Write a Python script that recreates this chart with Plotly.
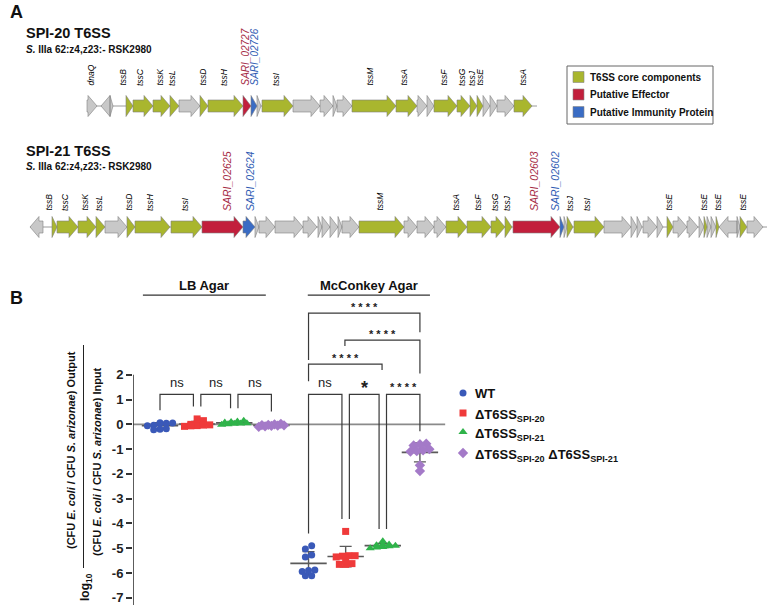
import numpy as np
import plotly.graph_objects as go

# ---------------- Panel A : gene maps (map units) ----------------
SPI20_START = [87, 101, 110, 126, 133, 153, 170, 179, 200, 208, 243, 251, 257, 262, 293, 320, 333, 337, 352, 396,
               417, 427, 434, 457, 470, 477, 483, 490, 497, 514]
SPI20_END = [97, 110, 113, 133, 153, 170, 179, 200, 208, 243, 251, 257, 261, 293, 320, 333, 337, 352, 396, 417,
             427, 434, 457, 470, 477, 483, 490, 497, 514, 532]
SPI20_STRAND = [1, -1, 1] + [1] * 27
SPI20_TYPE = ['g', 'g', 'g', 'c', 'c', 'c', 'c', 'g', 'c', 'c', 'e', 'i', 'g', 'c', 'g', 'g', 'g', 'g', 'c', 'c',
              'g', 'g', 'c', 'c', 'c', 'c', 'g', 'g', 'g', 'c']
SPI20_LABEL_POS = [90, 122, 140, 159, 172, 202, 224, 245, 254, 276, 369, 403, 443, 462, 472, 479, 522]
SPI20_LABELS = ['dnaQ', 'tssB', 'tssC', 'tssK', 'tssL', 'tssD', 'tssH', 'SARI_02727', 'SARI_02726', 'tssI',
                'tssM', 'tssA', 'tssF', 'tssG', 'tssJ', 'tssE', 'tssA']

SPI21_START = [30, 52, 57, 78, 96, 105, 127, 135, 171, 202, 243, 255, 259, 275, 303, 318, 322, 330, 338, 342,
               359, 404, 417, 434, 446, 467, 491, 505, 513, 560, 564, 567, 574, 604, 631, 637, 643, 657, 667, 673,
               687, 699, 704, 707, 711, 716, 719, 737, 740, 747]
SPI21_END = [43, 57, 78, 96, 105, 127, 135, 170, 202, 243, 255, 259, 275, 303, 317, 322, 330, 338, 342, 359,
             404, 417, 434, 446, 467, 491, 505, 512, 560, 564, 567, 573, 604, 631, 637, 642, 657, 663, 673, 687,
             698, 704, 707, 711, 716, 719, 737, 740, 747, 763]
SPI21_STRAND = [-1] + [1] * 45 + [-1] + [1] * 3
SPI21_TYPE = ['g', 'c', 'c', 'c', 'c', 'g', 'c', 'c', 'c', 'e', 'i', 'g', 'g', 'g', 'g', 'g', 'g', 'g', 'g', 'g',
              'c', 'g', 'g', 'g', 'c', 'c', 'c', 'c', 'e', 'i', 'g', 'c', 'c', 'g', 'g', 'g', 'g', 'g', 'c', 'g',
              'g', 'g', 'c', 'g', 'g', 'c', 'g', 'g', 'c', 'g']
SPI21_LABEL_POS = [48, 65, 84, 99, 128, 150, 185, 227, 250, 379, 455, 477, 495, 507, 534, 555, 570, 587,
                   668, 703, 717, 742]
SPI21_LABELS = ['tssB', 'tssC', 'tssK', 'tssL', 'tssD', 'tssH', 'tssI', 'SARI_02625', 'SARI_02624', 'tssM',
                'tssA', 'tssF', 'tssG', 'tssJ', 'SARI_02603', 'SARI_02602', 'tssJ', 'tssI',
                'tssE', 'tssE', 'tssE', 'tssE']

GENE_CLASSES = ['c', 'e', 'i']
GENE_CLASS_NAMES = ['T6SS core components', 'Putative Effector', 'Putative Immunity Protein']

# ---------------- Panel B : competition data (log10 ratios) ----------------
STRAINS = ['WT', 'ΔT6SS<sub>SPI-20</sub>', 'ΔT6SS<sub>SPI-21</sub>',
           'ΔT6SS<sub>SPI-20</sub> ΔT6SS<sub>SPI-21</sub>']
MEDIA = ['LB Agar', 'McConkey Agar']
LB_WT = [0.07, 0.05, 0.04, 0.06, -0.04, -0.06, -0.18, -0.20, -0.22]
LB_SPI20 = [0.22, 0.15, 0.02, 0.00, -0.02, -0.05, -0.03, -0.08, -0.06]
LB_SPI21 = [0.12, 0.10, 0.08, 0.05, 0.02, 0.00, -0.02, 0.15, 0.03]
LB_DOUBLE = [0.00, -0.02, -0.03, -0.05, -0.06, -0.08, -0.10, 0.02, -0.04]
MC_WT = [-4.90, -5.03, -5.27, -5.35, -5.88, -5.94, -6.11, -6.11, -5.90]
MC_SPI20 = [-4.32, -5.30, -5.32, -5.35, -5.30, -5.62, -5.65, -5.65, -5.50]
MC_SPI21 = [-4.72, -4.85, -4.88, -4.90, -4.95, -4.97, -5.00, -4.92, -4.85]
MC_DOUBLE = [-0.78, -0.80, -0.85, -1.00, -1.05, -1.10, -1.08, -1.65, -1.88]
Y_TICKS = [-7, -6, -5, -4, -3, -2, -1, 0, 1, 2]
Y_TICK_LABELS = ['-7', '-6', '-5', '-4', '-3', '-2', '-1', '0', '1', '2']
ADJ_COMPARISONS = [(0, 1, 'ns'), (1, 2, 'ns'), (2, 3, 'ns'), (4, 5, 'ns'), (5, 6, '*'), (6, 7, '* * * *')]
# upper comparisons: (left, right, bracket top, left leg end, right leg end, label)
UPPER_COMPARISONS = [(4, 5.98, 2.43, 1.74, 2.19, '* * * *'),
                     (4.98, 7, 3.40, 3.16, 2.05, '* * * *'),
                     (4, 7, 4.49, 2.60, 3.72, '* * * *')]

# ---------------- styles ----------------
FONT = 'Liberation Sans, Arial, sans-serif'
GENE_COLORS = {'g': '#c8c8c8', 'c': '#a9b62e', 'e': '#c21f3c', 'i': '#3a6cc4'}
LABEL_COLORS = {'tss': '#000000', 'e': '#a52a44', 'i': '#2f5bb3'}
STRAIN_COLORS = ['#3a59b8', '#ef3a3a', '#2fb34a', '#a47ac8']
STRAIN_SYMBOLS = ['circle', 'square', 'triangle-up', 'diamond']
STRAIN_SIZES = [7, 7, 8, 8]

fig = go.Figure()


def arrow_path(s, e, strand, yc, hb=6.0, hh=10.5, hl=9.0):
    L = e - s
    h = min(hl, L)
    if strand > 0:
        if h >= L:
            return [s, e, s, s], [yc - hh, yc, yc + hh, yc - hh]
        return ([s, e - h, e - h, e, e - h, e - h, s, s],
                [yc - hb, yc - hb, yc - hh, yc, yc + hh, yc + hb, yc + hb, yc - hb])
    if h >= L:
        return [e, s, e, e], [yc - hh, yc, yc + hh, yc - hh]
    return ([e, s + h, s + h, s, s + h, s + h, e, e],
            [yc - hb, yc - hb, yc - hh, yc, yc + hh, yc + hb, yc + hb, yc - hb])


def draw_map(starts, ends, strands, types, yc):
    fig.add_trace(go.Scatter(x=[min(starts), max(ends) + 5], y=[yc, yc], mode='lines',
                             line=dict(color='#9a9a9a', width=1), xaxis='x2', yaxis='y2', hoverinfo='skip'))
    for t in ['g', 'c', 'e', 'i']:
        xs, ys = [], []
        for s, e, st, tt in zip(starts, ends, strands, types):
            if tt != t:
                continue
            px, py = arrow_path(s, e, st, yc)
            xs += px + [None]
            ys += py + [None]
        fig.add_trace(go.Scatter(x=xs, y=ys, mode='lines', fill='toself', fillcolor=GENE_COLORS[t],
                                 line=dict(color='#808080', width=0.6), xaxis='x2', yaxis='y2',
                                 hoverinfo='skip'))


def draw_labels(pos, labels, ybottom, small, big):
    for p, lab in zip(pos, labels):
        if lab.startswith('SARI'):
            num = int(lab.split('_')[1])
            col = LABEL_COLORS['e'] if num % 2 == 1 else LABEL_COLORS['i']
            size = big
        else:
            col = LABEL_COLORS['tss']
            size = small
        fig.add_annotation(x=p, y=ybottom, xref='x2', yref='y2', text='<i>%s</i>' % lab, textangle=-90,
                           showarrow=False, xanchor='center', yanchor='bottom',
                           font=dict(family=FONT, size=size, color=col))


draw_map(SPI20_START, SPI20_END, SPI20_STRAND, SPI20_TYPE, 106)
draw_map(SPI21_START, SPI21_END, SPI21_STRAND, SPI21_TYPE, 227)
draw_labels(SPI20_LABEL_POS, SPI20_LABELS, 88, 8.5, 10)
draw_labels(SPI21_LABEL_POS, SPI21_LABELS, 213, 8.5, 10.5)

# panel A titles
for txt, x, y, size in [('<b>A</b>', 8, 12, 18), ('<b>SPI-20 T6SS</b>', 24, 33, 14.5),
                        ('<b><i>S.</i> IIIa 62:z4,z23:- RSK2980</b>', 24, 49, 10),
                        ('<b>SPI-21 T6SS</b>', 24, 151, 14.5),
                        ('<b><i>S.</i> IIIa 62:z4,z23:- RSK2980</b>', 24, 166, 10),
                        ('<b>B</b>', 8, 298, 18)]:
    fig.add_annotation(x=x, y=y, xref='x2', yref='y2', text=txt, showarrow=False, xanchor='left',
                       yanchor='middle', font=dict(family=FONT, size=size, color='#111'))

# panel A legend
fig.add_shape(type='rect', x0=567, x1=713, y0=66, y1=124, xref='x2', yref='y2',
              line=dict(color='#666', width=1), fillcolor='white')
for k, (cls, name) in enumerate(zip(GENE_CLASSES, GENE_CLASS_NAMES)):
    yy = 77 + k * 17.5
    fig.add_shape(type='rect', x0=573, x1=584, y0=yy - 5.5, y1=yy + 5.5, xref='x2', yref='y2',
                  line=dict(color='#888', width=0.6), fillcolor=GENE_COLORS[cls])
    fig.add_annotation(x=588, y=yy, xref='x2', yref='y2', text='<b>%s</b>' % name, showarrow=False,
                       xanchor='left', yanchor='middle', font=dict(family=FONT, size=10, color='#111'))

# ---------------- Panel B ----------------
SERIES = [LB_WT, LB_SPI20, LB_SPI21, LB_DOUBLE, MC_WT, MC_SPI20, MC_SPI21, MC_DOUBLE]


def swarm(values, center, bin_w=0.15, step=0.17, max_row=5):
    """Prism-like column scatter: points of similar value share a row, spread horizontally."""
    v = np.asarray(values, dtype=float)
    order = np.argsort(v, kind='stable')
    rows, cur = [], [order[0]]
    for idx in order[1:]:
        if v[idx] - v[cur[0]] <= bin_w and len(cur) < max_row:
            cur.append(idx)
        else:
            rows.append(cur)
            cur = [idx]
    rows.append(cur)
    off = np.zeros(len(v))
    for r in rows:
        n = len(r)
        for q, idx in enumerate(r):
            off[idx] = (q - (n - 1) / 2) * step
    return center + off


# zero line
fig.add_shape(type='line', xref='x', yref='y', x0=-0.727, x1=7.68, y0=0, y1=0,
              line=dict(color='#8a8a8a', width=1.6), layer='below')
# y axis line
fig.add_shape(type='line', xref='x', yref='y', x0=-0.727, x1=-0.727, y0=-7.29, y1=2.0,
              line=dict(color='#333', width=1.6))

for k, vals in enumerate(SERIES):
    m = float(np.mean(vals))
    sd = float(np.std(vals, ddof=1))
    fig.add_trace(go.Scatter(x=[k], y=[m], mode='markers',
                             marker=dict(symbol='line-ew', size=26, line=dict(color='#5a5a5a', width=1.6)),
                             error_y=dict(type='data', array=[sd], color='#5a5a5a', thickness=1.4, width=6),
                             hoverinfo='skip'))
for k, vals in enumerate(SERIES):
    si = k % 4
    fig.add_trace(go.Scatter(x=swarm(vals, k), y=vals, mode='markers',
                             marker=dict(symbol=STRAIN_SYMBOLS[si], size=STRAIN_SIZES[si],
                                         color=STRAIN_COLORS[si], line=dict(width=0)),
                             name=STRAINS[si], hoverinfo='y'))

BR = dict(color='#3a3a3a', width=1.2)
# adjacent comparisons
for i, j, lab in ADJ_COMPARISONS:
    xl = i + (0.1 if i % 4 != 0 else 0.0)
    xr = j - (0.1 if j % 4 != 3 else 0.0)
    top = 1.21
    yl = max(SERIES[i]) + 0.5
    yr = max(SERIES[j]) + 0.5
    fig.add_trace(go.Scatter(x=[xl, xl, xr, xr], y=[yl, top, top, yr], mode='lines', line=BR,
                             hoverinfo='skip'))
    if lab == 'ns':
        fig.add_annotation(x=(xl + xr) / 2, y=1.68, xref='x', yref='y', text=lab, showarrow=False,
                           font=dict(family=FONT, size=13, color='#222'))
    elif lab == '*':
        fig.add_annotation(x=(xl + xr) / 2, y=1.45, xref='x', yref='y', text='<b>*</b>', showarrow=False,
                           font=dict(family=FONT, size=18, color='#222'))
    else:
        fig.add_annotation(x=(xl + xr) / 2, y=1.5, xref='x', yref='y', text='<b>%s</b>' % lab,
                           showarrow=False, font=dict(family=FONT, size=11, color='#222'))
for xl, xr, top, yl, yr, lab in UPPER_COMPARISONS:
    fig.add_trace(go.Scatter(x=[xl, xl, xr, xr], y=[yl, top, top, yr], mode='lines', line=BR,
                             hoverinfo='skip'))
    fig.add_annotation(x=(xl + xr) / 2, y=top + 0.25, xref='x', yref='y', text='<b>%s</b>' % lab,
                       showarrow=False, font=dict(family=FONT, size=11, color='#222'))

# medium headers
for lab, x0, x1 in [(MEDIA[0], -0.46, 2.85), (MEDIA[1], 3.98, 7.27)]:
    fig.add_trace(go.Scatter(x=[x0, x1], y=[5.22, 5.22], mode='lines', line=dict(color='#333', width=1.2),
                             hoverinfo='skip'))
    fig.add_annotation(x=(x0 + x1) / 2, y=5.62, xref='x', yref='y', text='<b>%s</b>' % lab,
                       showarrow=False, font=dict(family=FONT, size=13, color='#111'))

# legend (panel B)
for si, name in enumerate(STRAINS):
    yy = [393, 413, 432, 453][si]
    fig.add_trace(go.Scatter(x=[463], y=[yy], mode='markers', xaxis='x2', yaxis='y2',
                             marker=dict(symbol=STRAIN_SYMBOLS[si], size=STRAIN_SIZES[si],
                                         color=STRAIN_COLORS[si], line=dict(width=0)), hoverinfo='skip'))
    fig.add_annotation(x=473, y=yy + (0 if si == 0 else 2), xref='x2', yref='y2', text='<b>%s</b>' % name,
                       showarrow=False, xanchor='left', yanchor='middle',
                       font=dict(family=FONT, size=13, color='#111'))

# y axis title (fraction)
fig.add_annotation(x=71, y=450, xref='x2', yref='y2', textangle=-90, showarrow=False,
                   text='<b>(CFU <i>E. coli</i> / CFU <i>S. arizonae</i>) Output</b>',
                   font=dict(family=FONT, size=11, color='#111'))
fig.add_annotation(x=97, y=462, xref='x2', yref='y2', textangle=-90, showarrow=False,
                   text='<b>(CFU <i>E. coli</i> / CFU <i>S. arizonae</i>) Input</b>',
                   font=dict(family=FONT, size=11, color='#111'))
fig.add_shape(type='line', xref='x2', yref='y2', x0=83.5, x1=83.5, y0=345, y1=568,
              line=dict(color='#222', width=1))
fig.add_annotation(x=86, y=587, xref='x2', yref='y2', textangle=-90, showarrow=False,
                   text='<b>log<sub>10</sub></b>', font=dict(family=FONT, size=12, color='#111'))

fig.update_layout(
    width=767, height=609, margin=dict(l=0, r=0, t=0, b=0),
    paper_bgcolor='white', plot_bgcolor='rgba(0,0,0,0)', showlegend=False,
    font=dict(family=FONT),
    xaxis=dict(domain=[133 / 767, 450 / 767], range=[-0.727, 7.81], visible=False, anchor='y'),
    yaxis=dict(domain=[4 / 609, 339 / 609], range=[-7.29, 6.23], anchor='x', showgrid=False,
               zeroline=False, showline=False, ticks='outside', ticklen=6, tickwidth=1.6, tickcolor='#333',
               tickvals=Y_TICKS, ticktext=['<b>%s</b>' % t for t in Y_TICK_LABELS],
               tickfont=dict(family=FONT, size=13, color='#222')),
    xaxis2=dict(domain=[0, 1], range=[0, 767], visible=False, anchor='y2'),
    yaxis2=dict(domain=[0, 1], range=[609, 0], visible=False, anchor='x2'),
)

fig.write_html('out.html')
